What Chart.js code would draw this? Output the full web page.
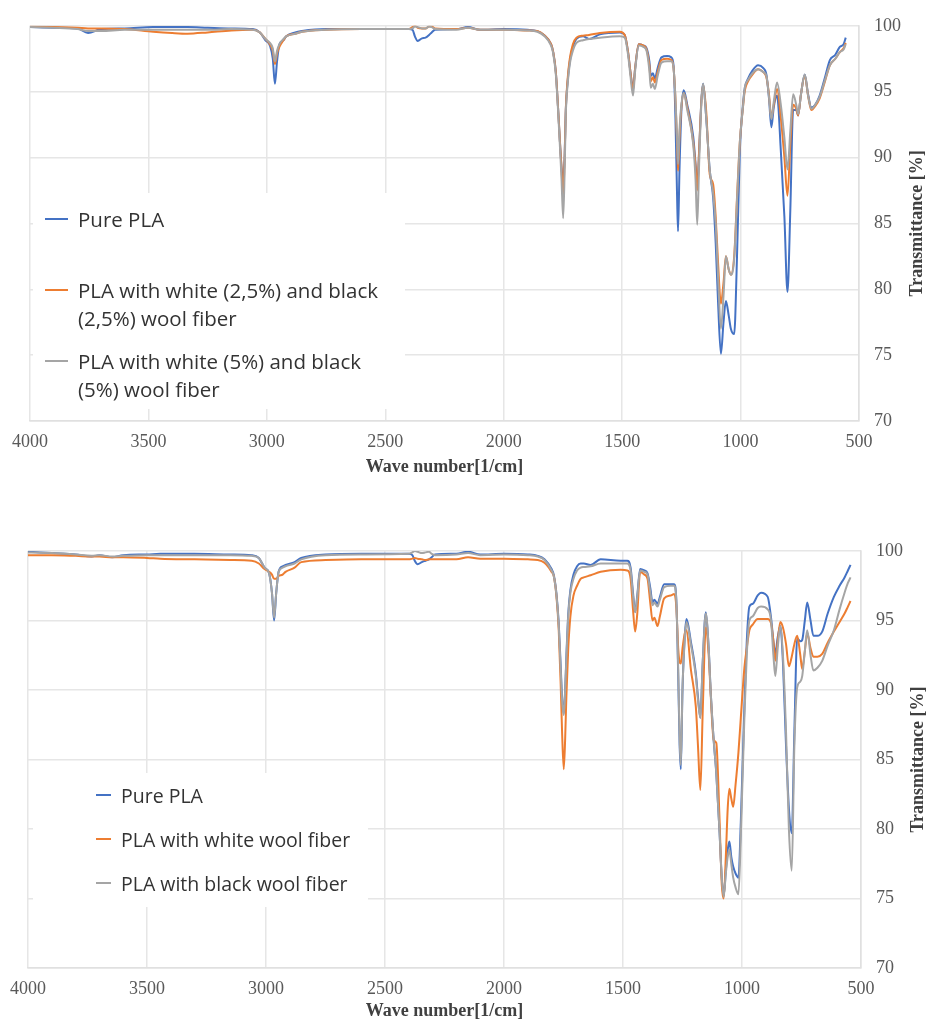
<!DOCTYPE html>
<html>
<head>
<meta charset="utf-8">
<script src="https://cdn.jsdelivr.net/npm/chart.js@4.4.1/dist/chart.umd.min.js"></script>
<style>
  body { margin: 0; background: #fff; }
  canvas { position: absolute; left: 0; }
  #chart1 { top: 0; }
  #chart2 { top: 520px; }
</style>
</head>
<body>
<canvas id="chart1" width="928" height="480"></canvas>
<canvas id="chart2" width="928" height="502"></canvas>
<script>
// axis ticks
var xTickValues = [4000, 3500, 3000, 2500, 2000, 1500, 1000, 500];
var yTickValues = [70, 75, 80, 85, 90, 95, 100];

// chart 1 - wave numbers [1/cm] and transmittance [%]
var waveNumbers1 = [
  4000, 3900, 3800, 3755, 3700, 3600, 3480, 3400, 3335, 3250,
  3150, 3060, 3030, 3006, 2987, 2975, 2966, 2957, 2947, 2930,
  2918, 2880, 2852, 2750, 2600, 2400, 2385, 2375, 2363, 2345,
  2330, 2315, 2304, 2290, 2200, 2151, 2100, 2000, 1900, 1858,
  1830, 1800, 1791, 1780, 1770, 1762, 1756, 1749, 1743, 1738,
  1730, 1721, 1708, 1693, 1665, 1640, 1594, 1510, 1489, 1475,
  1465, 1454, 1445, 1430, 1410, 1397, 1385, 1379, 1370, 1362,
  1350, 1334, 1310, 1292, 1283, 1275, 1268, 1264, 1258, 1250,
  1240, 1225, 1200, 1190, 1183, 1175, 1165, 1158, 1145, 1130,
  1116, 1105, 1095, 1083, 1072, 1062, 1050, 1041, 1027, 1015,
  1003, 990, 982, 968, 950, 926, 905, 891, 880, 870,
  860, 846, 830, 815, 802, 790, 778, 765, 757, 745,
  729, 715, 701, 685, 666, 645, 623, 600, 581, 565, 556
];
var purePLA1 = [
  99.9, 99.85, 99.8, 99.45, 99.75, 99.8, 99.9, 99.9, 99.9, 99.85,
  99.8, 99.75, 99.5, 98.9, 98.5, 97.5, 95.6, 97.3, 98.6, 98.9,
  99.2, 99.5, 99.6, 99.75, 99.75, 99.75, 99.7, 99.2, 98.85, 99.05,
  99.1, 99.3, 99.5, 99.7, 99.75, 99.9, 99.7, 99.75, 99.7, 99.6,
  99.3, 98.6, 98.0, 96.5, 93.6, 91.0, 89.3, 88.2, 90.0, 93.6,
  95.8, 97.3, 98.4, 99.0, 99.2, 99.0, 99.35, 99.5, 99.3, 98.0,
  96.5, 95.3, 96.8, 98.6, 98.5, 98.3, 97.3, 96.2, 96.4, 96.0,
  96.8, 97.6, 97.7, 97.6, 97.0, 93.0, 87.0, 84.4, 89.0, 93.5,
  95.1, 94.0, 91.6, 89.5, 87.7, 90.5, 94.5, 95.6, 93.0, 89.0,
  87.0, 83.5, 79.0, 75.1, 77.5, 79.1, 78.0, 77.0, 76.6, 82.5,
  90.5, 94.0, 95.3, 96.0, 96.6, 97.0, 96.8, 96.3, 94.5, 92.3,
  93.8, 94.7, 90.5, 85.5, 79.8, 86.0, 93.6, 93.6, 93.2, 94.8,
  96.3, 94.8, 93.8, 94.0, 94.7, 96.0, 97.4, 97.8, 98.4, 98.6, 99.1
];
var wool25 = [
  99.95, 99.9, 99.85, 99.8, 99.8, 99.75, 99.55, 99.45, 99.4, 99.5,
  99.65, 99.7, 99.5, 99.0, 98.6, 98.1, 97.1, 97.9, 98.4, 98.9,
  99.2, 99.4, 99.55, 99.7, 99.75, 99.75, 99.9, 100, 99.85, 99.8,
  99.8, 99.95, 99.95, 99.8, 99.75, 99.85, 99.7, 99.7, 99.65, 99.6,
  99.3, 98.6, 98.0, 96.5, 93.6, 91.0, 89.2, 87.2, 89.8, 93.6,
  96.0, 97.5, 98.6, 99.1, 99.25, 99.3, 99.45, 99.55, 99.3, 98.0,
  96.5, 95.1, 96.8, 98.6, 98.5, 98.2, 97.0, 95.8, 96.1, 95.7,
  96.5, 97.4, 97.5, 97.4, 96.8, 94.5, 91.0, 89.0, 91.5, 93.8,
  94.9, 93.8, 91.2, 89.3, 87.5, 90.5, 94.4, 95.5, 93.5, 88.7,
  88.0, 85.5, 82.0, 78.9, 80.5, 82.5, 81.5, 81.1, 82.5, 87.0,
  91.2, 93.8, 95.1, 95.8, 96.3, 96.7, 96.5, 96.1, 94.8, 93.0,
  94.0, 95.2, 93.0, 90.0, 87.1, 91.0, 94.0, 93.7, 93.2, 94.8,
  96.2, 94.7, 93.6, 93.9, 94.5, 95.7, 97.0, 97.5, 98.0, 98.3, 98.7
];
var wool5 = [
  99.9, 99.85, 99.75, 99.6, 99.6, 99.7, 99.7, 99.7, 99.7, 99.7,
  99.75, 99.7, 99.5, 99.0, 98.7, 98.3, 97.3, 98.1, 98.6, 99.0,
  99.2, 99.4, 99.55, 99.7, 99.75, 99.75, 99.8, 99.95, 99.9, 99.8,
  99.8, 99.95, 99.9, 99.75, 99.7, 99.85, 99.7, 99.7, 99.65, 99.55,
  99.25, 98.5, 97.9, 96.3, 93.4, 90.6, 88.4, 85.4, 88.8, 93.2,
  95.6, 97.1, 98.1, 98.7, 98.9, 99.0, 99.1, 99.2, 99.1, 97.8,
  96.2, 94.7, 96.6, 98.5, 98.4, 98.1, 96.6, 95.3, 95.6, 95.2,
  96.2, 97.2, 97.3, 97.3, 96.8, 94.5, 91.5, 89.5, 92.0, 94.0,
  94.9, 93.6, 91.0, 88.3, 84.9, 89.5, 94.3, 95.6, 93.0, 89.0,
  87.3, 85.0, 81.0, 77.0, 79.5, 82.5, 81.5, 81.1, 82.3, 86.8,
  91.2, 93.8, 95.3, 95.9, 96.4, 96.7, 96.5, 96.2, 94.6, 92.9,
  94.2, 95.7, 94.0, 91.5, 89.1, 92.0, 94.8, 94.0, 93.3, 94.8,
  96.3, 94.7, 93.7, 94.0, 94.6, 95.8, 97.0, 97.5, 98.0, 98.2, 98.6
];

// chart 2 - wave numbers [1/cm] and transmittance [%]
var waveNumbers2 = [
  4000, 3900, 3800, 3733, 3700, 3646, 3600, 3500, 3444, 3300,
  3150, 3060, 3030, 3006, 2987, 2975, 2966, 2957, 2947, 2930,
  2918, 2880, 2852, 2750, 2600, 2400, 2385, 2375, 2363, 2345,
  2330, 2315, 2304, 2290, 2200, 2151, 2100, 2000, 1900, 1858,
  1830, 1800, 1791, 1780, 1770, 1762, 1756, 1749, 1743, 1738,
  1730, 1721, 1708, 1693, 1678, 1665, 1636, 1594, 1510, 1482,
  1468, 1458, 1449, 1440, 1428, 1410, 1397, 1385, 1376, 1368,
  1355, 1345, 1327, 1300, 1285, 1276, 1268, 1262, 1257, 1250,
  1240, 1233, 1215, 1194, 1185, 1175, 1165, 1152, 1140, 1131,
  1119, 1108, 1095, 1085, 1077, 1068, 1060, 1053, 1045, 1037,
  1027, 1015, 1005, 990, 980, 969, 955, 934, 920, 892,
  878, 868, 860, 850, 839, 828, 815, 803, 791, 780,
  768, 755, 747, 736, 726, 712, 700, 683, 663, 640, 614, 590, 569, 555, 544
];
var purePLA2 = [
  99.95, 99.85, 99.75, 99.6, 99.7, 99.55, 99.7, 99.75, 99.8, 99.8,
  99.75, 99.7, 99.5, 98.8, 98.4, 97.0, 95.0, 97.0, 98.5, 98.9,
  99.0, 99.2, 99.5, 99.75, 99.8, 99.8, 99.7, 99.3, 99.05, 99.2,
  99.3, 99.4, 99.55, 99.75, 99.8, 99.95, 99.75, 99.8, 99.75, 99.65,
  99.4, 98.7, 98.3, 97.0, 94.8, 91.8, 89.5, 88.3, 90.0, 92.4,
  95.5, 97.2, 98.3, 98.9, 99.1, 99.1, 99.0, 99.4, 99.3, 99.3,
  98.8, 97.0, 95.6, 96.8, 98.7, 98.6, 98.4, 97.3, 96.3, 96.5,
  96.2, 96.7, 97.6, 97.6, 97.6, 96.5, 91.0, 86.0, 84.3, 90.0,
  94.0, 95.1, 93.5, 91.2, 89.5, 88.0, 92.0, 95.6, 93.0, 89.7,
  86.4, 84.0, 80.0, 76.5, 75.2, 77.0, 78.5, 79.1, 78.0, 77.3,
  76.8, 76.5, 80.5, 88.8, 93.5, 96.0, 96.2, 96.8, 97.0, 96.7,
  95.2, 93.5, 92.6, 93.8, 94.6, 92.0, 86.0, 81.5, 79.7, 87.0,
  93.7, 93.5, 93.6, 95.0, 96.3, 95.0, 93.9, 93.9, 94.2, 95.5, 96.7, 97.5, 98.1, 98.6, 99.0
];
var whiteWool = [
  99.7, 99.7, 99.65, 99.6, 99.6, 99.55, 99.55, 99.5, 99.45, 99.4,
  99.35, 99.3, 99.1, 98.7, 98.5, 98.3, 98.0, 98.0, 98.2, 98.3,
  98.5, 98.8, 99.2, 99.35, 99.4, 99.4, 99.45, 99.5, 99.45, 99.4,
  99.35, 99.4, 99.4, 99.4, 99.4, 99.55, 99.45, 99.45, 99.4, 99.35,
  99.15, 98.5, 98.2, 96.8, 94.3, 90.5, 87.0, 84.3, 86.5, 89.5,
  93.0, 95.3, 96.8, 97.5, 98.0, 98.1, 98.25, 98.5, 98.65, 98.6,
  98.0, 95.8, 94.2, 95.5, 98.5, 98.3, 98.0, 96.2, 95.0, 95.2,
  94.6, 95.3, 96.6, 96.8, 96.9, 96.0, 93.0, 92.0, 91.9, 93.0,
  94.1, 94.3, 91.5, 88.8, 86.0, 82.8, 88.5, 94.5, 92.5, 89.5,
  86.4, 86.2, 81.0, 76.0, 75.0, 78.0, 81.5, 82.9, 82.2, 81.6,
  83.2, 85.5, 88.0, 91.6, 93.0, 94.3, 94.7, 95.1, 95.1, 95.1,
  94.8, 93.5, 92.1, 93.5, 94.9, 94.5, 93.3, 91.7, 92.4, 93.3,
  93.9, 92.5, 91.5, 92.8, 94.1, 93.0, 92.4, 92.4, 92.6, 93.4, 94.2, 94.9, 95.5, 96.0, 96.4
];
var blackWool = [
  99.9, 99.85, 99.75, 99.65, 99.7, 99.6, 99.65, 99.7, 99.7, 99.7,
  99.7, 99.65, 99.5, 98.8, 98.4, 97.0, 95.2, 97.0, 98.5, 98.8,
  98.9, 99.1, 99.4, 99.7, 99.75, 99.8, 99.9, 100, 99.95, 99.85,
  99.9, 99.95, 99.8, 99.7, 99.75, 99.85, 99.7, 99.75, 99.7, 99.6,
  99.35, 98.6, 98.2, 96.9, 94.6, 91.5, 89.3, 88.2, 90.0, 92.2,
  95.3, 97.0, 98.0, 98.6, 98.8, 98.85, 98.9, 99.1, 99.1, 99.1,
  98.6, 96.8, 95.6, 96.7, 98.6, 98.5, 98.3, 97.0, 96.1, 96.3,
  96.0, 96.5, 97.4, 97.5, 97.5, 96.4, 91.5, 86.5, 84.6, 90.2,
  93.8, 94.9, 93.3, 91.0, 89.3, 88.0, 92.0, 95.5, 93.0, 89.7,
  86.4, 84.0, 80.0, 76.5, 75.1, 76.8, 78.0, 78.5, 77.5, 76.5,
  75.8, 75.3, 79.5, 88.0, 92.5, 95.0, 95.3, 95.9, 96.0, 95.8,
  95.0, 92.5, 91.0, 93.0, 94.6, 92.5, 87.0, 80.0, 77.0, 86.0,
  90.2, 90.6, 91.0, 92.8, 94.3, 92.5, 91.4, 91.6, 92.1, 93.2, 94.3, 95.8, 97.0, 97.7, 98.1
];

var legendLines1 = [
  ["Pure PLA"],
  ["PLA with white (2,5%) and black", "(2,5%) wool fiber"],
  ["PLA with white (5%) and black", "(5%) wool fiber"]
];
var legendLines2 = [
  ["Pure PLA"],
  ["PLA with white wool fiber"],
  ["PLA with black wool fiber"]
];

var colors = ["#4472C4", "#ED7D31", "#A5A5A5"];

function toPoints(xs, ys) {
  return xs.map(function (x, i) { return { x: x, y: ys[i] }; });
}

// legend box + rotated y title, drawn on the canvas
var legendPlugin = {
  id: "customLegend",
  afterDatasetsDraw: function (chart, args, opts) {
    var ctx = chart.ctx;
    ctx.save();
    ctx.fillStyle = "#fff";
    ctx.fillRect(opts.box[0], opts.box[1], opts.box[2], opts.box[3]);
    ctx.font = opts.fontSize + 'px "Open Sans"';
    ctx.textBaseline = "middle";
    ctx.textAlign = "left";
    chart.data.datasets.forEach(function (ds, i) {
      var y = opts.rowY[i];
      ctx.strokeStyle = ds.borderColor;
      ctx.lineWidth = 2;
      ctx.beginPath();
      ctx.moveTo(opts.sampleX[0], y);
      ctx.lineTo(opts.sampleX[1], y);
      ctx.stroke();
      ctx.fillStyle = "#333";
      opts.lines[i].forEach(function (t, k) {
        ctx.fillText(t, opts.textX, y + 2 + k * opts.lineGap);
      });
    });
    var area = chart.chartArea;
    ctx.translate(opts.titleX, (area.top + area.bottom) / 2);
    ctx.rotate(-Math.PI / 2);
    ctx.font = 'bold 18px "Liberation Serif"';
    ctx.fillStyle = "#404040";
    ctx.textAlign = "center";
    ctx.fillText("Transmittance [%]", 0, 0);
    ctx.restore();
  }
};

function makeChart(id, waves, series, labels, cfg) {
  var datasets = series.map(function (vals, i) {
    return {
      label: labels[i].join(" "),
      data: toPoints(waves, vals),
      borderColor: colors[i],
      backgroundColor: colors[i],
      borderWidth: 2,
      pointRadius: 0,
      cubicInterpolationMode: "monotone",
      order: 3 - i
    };
  });
  return new Chart(document.getElementById(id).getContext("2d"), {
    type: "line",
    data: { datasets: datasets },
    plugins: [legendPlugin],
    options: {
      responsive: false,
      animation: false,
      devicePixelRatio: 1,
      layout: { padding: { top: cfg.top, left: cfg.left, right: 0, bottom: 0 } },
      plugins: {
        legend: { display: false },
        tooltip: { enabled: false },
        customLegend: cfg.legend
      },
      scales: {
        x: {
          type: "linear",
          reverse: true,
          min: 500,
          max: 4000,
          afterBuildTicks: function (s) { s.ticks = xTickValues.map(function (v) { return { value: v }; }); },
          afterFit: function (s) { s.height = cfg.xAxisH; },
          grid: { color: "#e6e6e6", lineWidth: 1.5, drawTicks: false },
          border: { color: "#e0e0e0", width: 1.5 },
          ticks: {
            padding: 10,
            color: "#595959",
            font: { family: "Liberation Serif", size: 18 },
            maxRotation: 0,
            callback: function (v) { return String(v); }
          },
          title: {
            display: true,
            text: "Wave number[1/cm]",
            color: "#404040",
            font: { family: "Liberation Serif", size: 18, weight: "bold" },
            padding: { top: 0, bottom: cfg.titlePad }
          }
        },
        y: {
          position: "right",
          min: 70,
          max: 100,
          afterBuildTicks: function (s) { s.ticks = yTickValues.map(function (v) { return { value: v }; }); },
          afterFit: function (s) { s.width = cfg.yAxisW; },
          grid: { color: "#e6e6e6", lineWidth: 1.5, drawTicks: false },
          border: { color: "#e0e0e0", width: 1.5 },
          ticks: {
            padding: 15,
            color: "#595959",
            font: { family: "Liberation Serif", size: 18 }
          }
        }
      }
    }
  });
}

makeChart("chart1", waveNumbers1, [purePLA1, wool25, wool5], legendLines1, {
  top: 15, left: 30, xAxisH: 59, yAxisW: 69, titlePad: 2,
  legend: {
    box: [33, 193, 372, 216],
    fontSize: 20.5, rowY: [219, 290, 361], sampleX: [45, 68], textX: 78,
    lineGap: 28, lines: legendLines1, titleX: 917
  }
});

makeChart("chart2", waveNumbers2, [purePLA2, whiteWool, blackWool], legendLines2, {
  top: 31, left: 26, xAxisH: 54, yAxisW: 67, titlePad: 0,
  legend: {
    box: [33, 253, 335, 134],
    fontSize: 19.5, rowY: [275, 319, 363], sampleX: [96, 111], textX: 121,
    lineGap: 28, lines: legendLines2, titleX: 918
  }
});
</script>
</body>
</html>
